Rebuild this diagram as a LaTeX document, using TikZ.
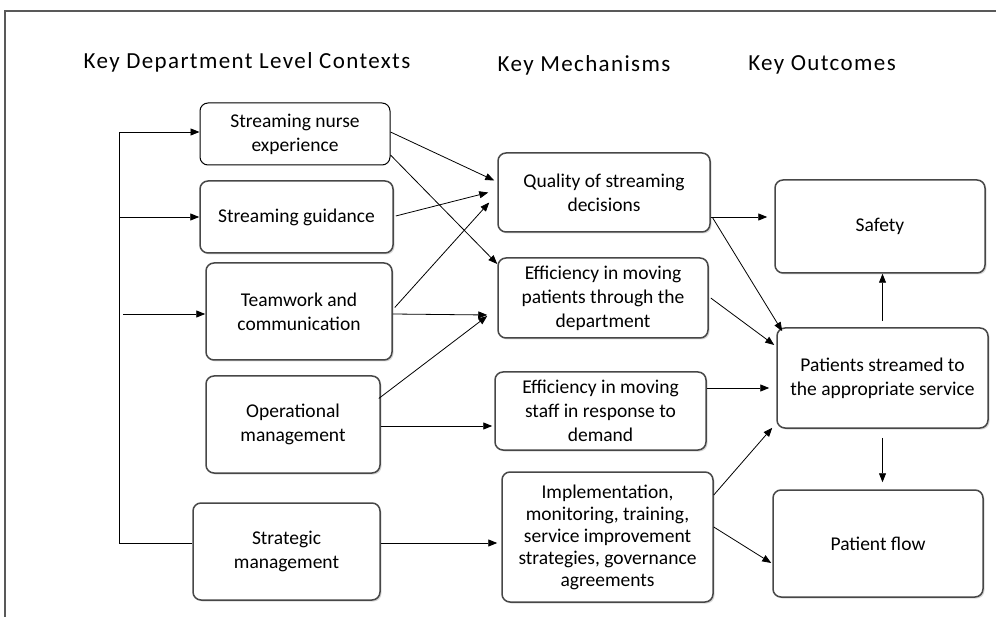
\documentclass[tikz,border=0pt]{standalone}
\usepackage{fontspec}
\setmainfont{Carlito}
\newfontfamily\headfont[LetterSpace=6]{Carlito}
\usetikzlibrary{arrows.meta, shadows}

\tikzset{
	ctx/.style={draw=black, line width=1pt, rounded corners=8pt, align=center, fill=white,
		inner sep=2pt, font=\fontsize{19.5}{24}\selectfont},
	shd/.style={ctx, draw=black!72, line width=1.5pt,
		drop shadow={opacity=.3, shadow xshift=1.5pt, shadow yshift=-1.5pt}},
	head/.style={font=\headfont\fontsize{23}{27}\selectfont},
	arr/.style={-{Triangle[length=9pt,width=7pt]}, line width=.8pt},
}

\begin{document}
\begin{tikzpicture}[x=1pt, y=-1pt]
	\useasboundingbox (0,0) rectangle (996,617);
	\draw[black!65, line width=1.3pt] (996,11) -- (5,11) -- (5,617);

	\node[head] (hctx) at (247,62) {Key Department Level Contexts};
	\node[head] (hmech) at (584,65) {Key Mechanisms};
	\node[head] (hout) at (822,65) {Key Outcomes};

	\node[ctx, minimum width=190pt, minimum height=62pt] (nurse) at (295,134) {Streaming nurse\\experience};
	\node[shd, minimum width=193pt, minimum height=72pt] (guide) at (296.5,217) {Streaming guidance};
	\node[shd, minimum width=186pt, minimum height=97pt] (team) at (299,311.5) {Teamwork and\\communication};
	\node[shd, minimum width=174pt, minimum height=97pt] (oper) at (293,424.5) {Operational\\management};
	\node[shd, minimum width=187pt, minimum height=97pt] (strat) at (286.5,551.5) {Strategic\\management};

	\node[shd, minimum width=212pt, minimum height=79pt] (qual) at (604,192.5) {Quality of streaming\\decisions};
	\node[shd, minimum width=210pt, minimum height=80pt] (effpat) at (603,298) {Efficiency in moving\\patients through the\\department};
	\node[shd, minimum width=211pt, minimum height=78pt] (effstaff) at (600.5,411) {Efficiency in moving\\staff in response to\\demand};
	\node[shd, minimum width=211pt, minimum height=130pt, font=\fontsize{19.5}{22}\selectfont] (impl) at (607.5,537) {Implementation,\\monitoring, training,\\service improvement\\strategies, governance\\agreements};

	\node[shd, minimum width=210pt, minimum height=93pt] (safety) at (880,226.5) {Safety};
	\node[shd, minimum width=211pt, minimum height=100pt] (stream) at (882.5,378) {Patients streamed to\\the appropriate service};
	\node[shd, minimum width=210pt, minimum height=107pt] (flow) at (878,543.5) {Patient flow};

	\coordinate (bus) at (119,543);
	\draw[line width=.8pt] ([yshift=8.5pt]strat.west) -- (bus);
	\draw[arr] (bus) |- ([yshift=2pt]nurse.west);
	\draw[arr] (bus |- guide.west) -- (guide.west);
	\draw[arr] ([xshift=4pt,yshift=-2.5pt]bus |- team.west) -- ([yshift=-2.5pt]team.west);

	\draw[arr] ([yshift=2pt]nurse.east) -- ([xshift=-3pt,yshift=12pt]qual.west);
	\draw[arr] ([yshift=-21pt]nurse.east) -- ([yshift=34pt]effpat.west);
	\draw[arr] ([xshift=2pt,yshift=1pt]guide.east) -- ([xshift=-9pt]qual.west);
	\draw[arr] ([xshift=2pt,yshift=4pt]team.east) -- ([xshift=-8pt,yshift=-10pt]qual.west);
	\draw[arr] ([yshift=-2.5pt]team.east) -- ([xshift=-10pt,yshift=-17pt]effpat.west);
	\draw[arr] ([xshift=-2pt,yshift=26pt]oper.east) -- ([xshift=-10pt,yshift=-18pt]effpat.west);
	\draw[arr] ([yshift=-1.5pt]oper.east) -- ([xshift=-2pt,yshift=-15pt]effstaff.west);
	\draw[arr] ([yshift=8.5pt]strat.east) -- ([xshift=-4pt,yshift=-6pt]impl.west);

	\draw[arr] ([yshift=-24.5pt]qual.east) -- ([xshift=-7pt,yshift=9.5pt]safety.west);
	\draw[arr] ([xshift=2pt,yshift=-25.5pt]qual.east) -- ([xshift=6pt,yshift=-4pt]stream.north west);
	\draw[arr] ([xshift=2pt]effpat.east) -- ([xshift=-2pt,yshift=33pt]stream.west);
	\draw[arr] ([yshift=23pt]effstaff.east) -- ([xshift=-7pt,yshift=-10pt]stream.west);
	\draw[arr] ([yshift=42pt]impl.east) -- ([xshift=-4pt,yshift=1pt]stream.south west);
	\draw[arr] ([yshift=10pt]impl.east) -- ([xshift=-1pt,yshift=-19.5pt]flow.west);
	\draw[arr] ([yshift=6pt]stream.north) -- (stream.north |- safety.south);
	\draw[arr, shorten <=9pt, shorten >=7pt] (stream.south) -- (stream.south |- flow.north);
\end{tikzpicture}
\end{document}
